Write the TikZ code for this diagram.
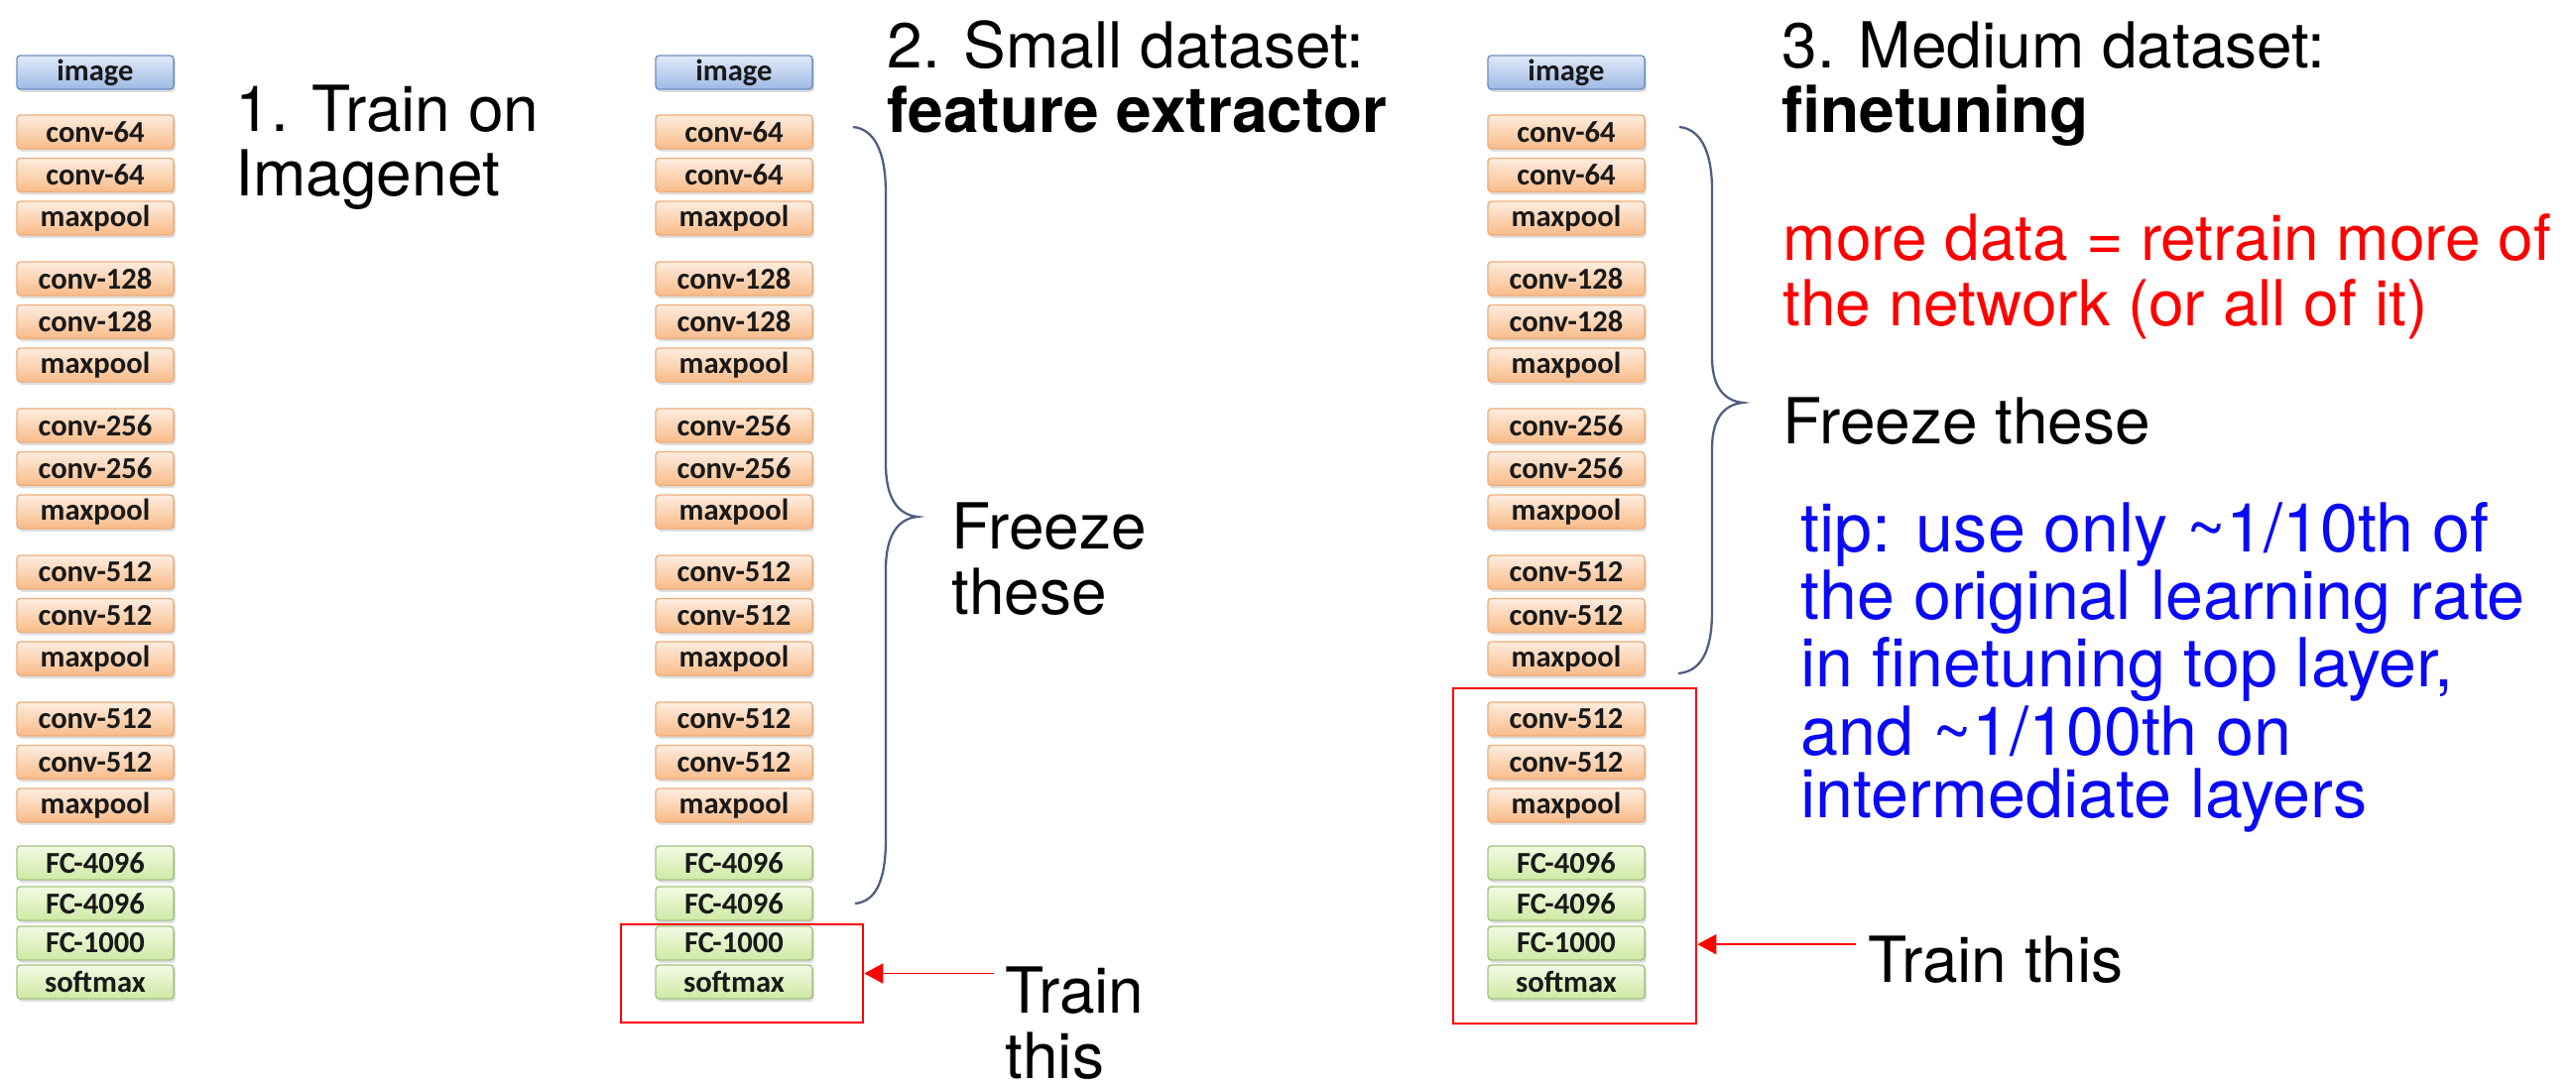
\documentclass[tikz,border=0pt]{standalone}
\usepackage{fontspec}
\setmainfont{TeX Gyre Heros}
\newfontfamily\layerfont{Carlito}
\usetikzlibrary{arrows.meta,positioning,shadows}

\definecolor{imgtop}{HTML}{E1EAF8}
\definecolor{imgbot}{HTML}{9DB9E4}
\definecolor{imgline}{HTML}{6E90C8}
\definecolor{convtop}{HTML}{FDEDE0}
\definecolor{convbot}{HTML}{F9BB88}
\definecolor{convline}{HTML}{EFAE7C}
\definecolor{fctop}{HTML}{F2FAE4}
\definecolor{fcbot}{HTML}{CFE9A4}
\definecolor{fcline}{HTML}{A8C283}
\definecolor{braceline}{HTML}{4F5F7E}
\definecolor{tipblue}{HTML}{0A0AF5}

\tikzset{
  layer/.style={draw, rounded corners=1pt, line width=0.4pt, inner sep=0pt,
                minimum width=1.58cm, minimum height=0.34cm, text=black!90,
                font=\layerfont\bfseries\fontsize{8.7}{9}\selectfont,
                drop shadow={shadow xshift=0.5pt, shadow yshift=-0.8pt, opacity=0.25}},
  imglayer/.style={layer, draw=imgline, top color=imgtop, bottom color=imgbot},
  convlayer/.style={layer, draw=convline, top color=convtop, bottom color=convbot},
  fclayer/.style={layer, draw=fcline, top color=fctop, bottom color=fcbot},
  % anchor sits on the baseline of the last line
  caption/.style={anchor=base west, inner sep=0pt, align=left,
                  font=\fontsize{18.2}{18.5}\selectfont},
  freezebrace/.style={draw=braceline, line width=0.65pt},
  trainbox/.style={draw=red, line width=0.7pt, inner sep=0pt},
  trainarrow/.style={draw=red, line width=0.5pt,
                     -{Triangle[length=0.19cm, width=0.2cm]}}
}

\begin{document}
\begin{tikzpicture}[x=0.01cm, y=-0.01cm]
  \useasboundingbox[fill=white] (0,0) rectangle (2597,1097);

  % the three copies of the network
  \foreach \cx [count=\col] in {96,740,1579} {
    \node[imglayer] (c\col-0) at (\cx,73) {image};
    \foreach \lbl/\yy [count=\idx] in {conv-64/133, conv-64/176.5, maxpool/220,
        conv-128/281, conv-128/324.5, maxpool/368,
        conv-256/429, conv-256/472.5, maxpool/516,
        conv-512/577, conv-512/620.5, maxpool/664,
        conv-512/725, conv-512/768.5, maxpool/812}
      \node[convlayer] (c\col-\idx) at (\cx,\yy) {\lbl};
    \foreach \lbl/\yy [count=\idx from 16] in {FC-4096/870, FC-4096/911,
        FC-1000/951, softmax/990}
      \node[fclayer] (c\col-\idx) at (\cx,\yy) {\lbl};
  }

  % 1. imagenet
  \node[caption] (step1) at (237,198) {1. Train on\\Imagenet};

  % 2. small dataset
  \node[caption] (step2) at (894,134) {2. Small dataset:\\\textbf{feature extractor}};
  \draw[freezebrace] (860,128) .. controls (880,130) and (893,150) .. (893,195)
    -- (893,468) .. controls (893,502) and (905,519) .. (925,521)
    .. controls (905,523) and (893,540) .. (893,574)
    -- (893,846) .. controls (893,890) and (882,909) .. (862,911);
  \node[caption] (freeze2) at (959,619) {Freeze\\these};
  \node[trainbox, minimum width=2.44cm, minimum height=0.99cm] (box2) at (748,981.5) {};
  \node[caption] (train2) at (1013,1087) {Train\\this};
  \draw[trainarrow] ([xshift=-0.11cm]train2.west |- box2.east) -- (box2.east);

  % 3. medium dataset
  \node[caption] (step3) at (1796,134) {3. Medium dataset:\\\textbf{finetuning}};
  \node[caption, text=red] (moredata) at (1797,328)
    {more data = retrain more of\\the network (or all of it)};
  \draw[freezebrace] (1693,128) .. controls (1713,130) and (1726,150) .. (1726,192)
    -- (1726,360) .. controls (1726,390) and (1738,404) .. (1757,406)
    .. controls (1738,408) and (1726,422) .. (1726,452)
    -- (1726,616) .. controls (1726,660) and (1713,677) .. (1692,679);
  \node[caption] (freeze3) at (1797,447) {Freeze these};
  \node[caption, text=tipblue, font=\fontsize{19.4}{17.9}\selectfont] (tip) at (1815,824)
    {tip: use only \textasciitilde 1/10th of\\the original learning rate\\in finetuning top layer,\\and \textasciitilde 1/100th on\\intermediate layers};
  \node[trainbox, minimum width=2.45cm, minimum height=3.38cm] (box3) at (1587.5,863) {};
  \node[caption] (train3) at (1883,990) {Train this};
  \draw[trainarrow] ([xshift=-0.12cm, yshift=0.15cm]train3.west)
    -- ([yshift=0.15cm]train3.west -| box3.east);
\end{tikzpicture}
\end{document}
